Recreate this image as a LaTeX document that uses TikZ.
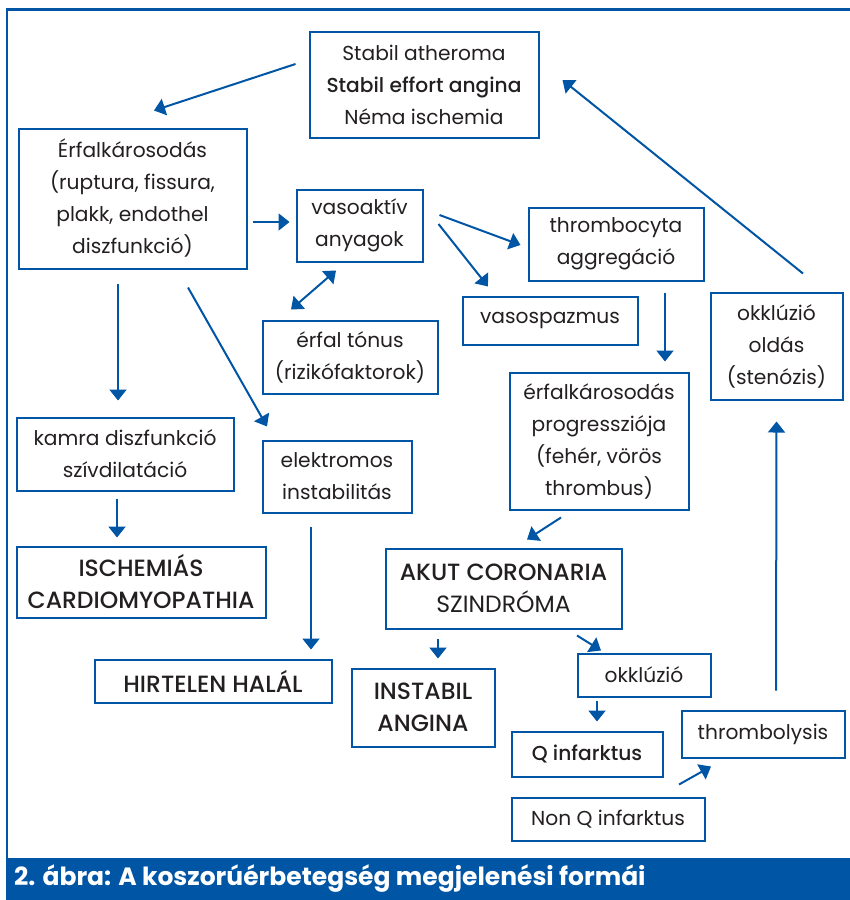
\documentclass[tikz,border=0pt]{standalone}
\usepackage{fontspec}
\setmainfont{Poppins}
\newfontfamily\medfont{Poppins Medium}
\usetikzlibrary{arrows.meta}
\definecolor{fblue}{HTML}{0055A4}
\definecolor{ftext}{HTML}{231F20}
\newcommand{\md}[1]{{\medfont #1}}
\newcommand{\capsz}{\fontsize{23.5}{32}\selectfont}
\begin{document}
\begin{tikzpicture}[x=1pt,y=-1pt,
  box/.style={draw=fblue,line width=2pt,inner sep=0pt,align=center,text=ftext,
    font=\fontsize{20.2}{32}\selectfont},
  arr/.style={draw=fblue,line width=2pt,-{Triangle[length=11pt,width=17pt]}},
  darr/.style={draw=fblue,line width=2pt,{Triangle[length=11pt,width=17pt]}-{Triangle[length=11pt,width=17pt]}},
]
\useasboundingbox (0,0) rectangle (850,900);
% frame
\draw[fblue,line width=2.5pt] (7,900) -- (7,9.5) -- (850,9.5);
\fill[fblue] (6,858) rectangle (850,900);
\node[anchor=west,text=white,font=\fontsize{25}{28}\selectfont\bfseries,inner sep=0pt] (cap) at (14,879) {2. ábra: A koszorúérbetegség megjelenési formái};

% nodes
\node[box,minimum width=229pt,minimum height=106pt] (stabil) at (424,84.5) {Stabil atheroma\\\md{Stabil effort angina}\\Néma ischemia};
\node[box,minimum width=228pt,minimum height=140pt] (erfal) at (132.5,198.5) {Érfalkárosodás\\(ruptura, fissura,\\plakk, endothel\\diszfunkció)};
\node[box,minimum width=126pt,minimum height=72pt] (vaso) at (359.5,225.5) {vasoaktív\\anyagok};
\node[box,minimum width=175pt,minimum height=73pt] (thromb) at (616,244) {thrombocyta\\aggregáció};
\node[box,minimum width=175pt,minimum height=48pt] (spazm) at (550,320.5) {vasospazmus};
\node[box,minimum width=175pt,minimum height=73pt] (tonus) at (350,357) {érfal tónus\\(rizikófaktorok)};
\node[box,minimum width=132pt,minimum height=107pt] (oldas) at (776.5,346) {okklúzió\\oldás\\(stenózis)};
\node[box,minimum width=179pt,minimum height=137pt] (progr) at (599,441) {érfalkárosodás\\progressziója\\(fehér, vörös\\thrombus)};
\node[box,minimum width=217pt,minimum height=73pt] (kamra) at (125,454) {kamra diszfunkció\\szívdilatáció};
\node[box,minimum width=149pt,minimum height=72pt] (elekt) at (337,476.5) {elektromos\\instabilitás};
\node[box,minimum width=249pt,minimum height=71pt,font=\capsz] (isch) at (141,582) {\md{ISCHEMIÁS}\\\md{CARDIOMYOPATHIA}};
\node[box,minimum width=236pt,minimum height=80pt,font=\capsz] (akut) at (503.5,588.5) {\md{AKUT CORONARIA}\\SZINDRÓMA};
\node[box,minimum width=237pt,minimum height=43pt,font=\capsz] (hirt) at (213,681) {\md{HIRTELEN HALÁL}};
\node[box,minimum width=143pt,minimum height=78pt,font=\capsz] (instab) at (423,707.5) {\md{INSTABIL}\\\md{ANGINA}};
\node[box,minimum width=133pt,minimum height=43pt] (okkl) at (644,675) {okklúzió};
\node[box,minimum width=151pt,minimum height=45pt] (qinf) at (587,754) {\md{Q infarktus}};
\node[box,minimum width=163pt,minimum height=47pt] (throl) at (763,734) {thrombolysis};
\node[box,minimum width=193pt,minimum height=43pt] (nonq) at (608,819) {Non Q infarktus};

% connectors
\draw[arr] ([shift={(-13,-20.5)}]stabil.west) -- ([shift={(21.5,-17)}]erfal.north);
\draw[arr] ([shift={(5,23.5)}]erfal.east) -- ([shift={(-6,-3.5)}]vaso.west);
\draw[darr] ([shift={(-23.5,8)}]vaso.south) -- ([shift={(-59,-10)}]tonus.north);
\draw[arr] ([shift={(16,-10.5)}]vaso.east) -- ([shift={(-7,1)}]thromb.west);
\draw[arr] ([shift={(15,-1.5)}]vaso.east) -- ([shift={(-62,-9)}]spazm.north);
\draw[arr] ([shift={(49,11)}]thromb.south) -- ([shift={(66,-10)}]progr.north);
\draw[arr] ([shift={(26.5,-18)}]oldas.north) -- ([shift={(23,-4.5)}]stabil.east);
\draw[arr] ([shift={(-14.5,14)}]erfal.south) -- ([shift={(-7,-16)}]kamra.north);
\draw[arr] ([shift={(55.5,18)}]erfal.south) -- ([shift={(-70,-13)}]elekt.north);
\draw[arr] ([shift={(-8,7)}]kamra.south) -- ([shift={(-24,-8)}]isch.north);
\draw[arr] ([shift={(-26,13)}]elekt.south) -- ([shift={(98,-9)}]hirt.north);
\draw[arr] ([shift={(-38,7)}]progr.south) -- ([shift={(23.5,-8)}]akut.north);
\draw[arr] ([shift={(-65.5,9)}]akut.south) -- ([shift={(15,-9)}]instab.north);
\draw[arr] ([shift={(73.5,6)}]akut.south) -- ([shift={(-43,-2)}]okkl.north);
\draw[arr] ([shift={(-47,3)}]okkl.south) -- ([shift={(10,-9)}]qinf.north);
\draw[arr] ([shift={(71,-12)}]nonq.north) -- ([shift={(-52,8)}]throl.south);
\draw[arr] ([shift={(13,-19)}]throl.north) -- ([shift={(0,21)}]oldas.south);
\end{tikzpicture}
\end{document}
